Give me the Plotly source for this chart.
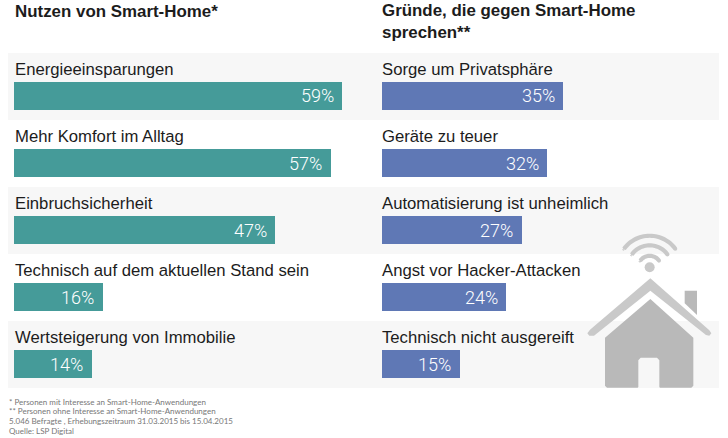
import numpy as np
import plotly.graph_objects as go

title_left = "Nutzen von Smart-Home*"
title_right = ["Gründe, die gegen Smart-Home", "sprechen**"]
cats_left = ["Energieeinsparungen", "Mehr Komfort im Alltag", "Einbruchsicherheit",
             "Technisch auf dem aktuellen Stand sein", "Wertsteigerung von Immobilie"]
vals_left = [59, 57, 47, 16, 14]
cats_right = ["Sorge um Privatsphäre", "Geräte zu teuer", "Automatisierung ist unheimlich",
              "Angst vor Hacker-Attacken", "Technisch nicht ausgereift"]
vals_right = [35, 32, 27, 24, 15]
footnotes = ["* Personen mit Interesse an Smart-Home-Anwendungen",
             "** Personen ohne Interesse an Smart-Home-Anwendungen",
             "5.046 Befragte , Erhebungszeitraum 31.03.2015 bis 15.04.2015",
             "Quelle: LSP Digital"]
footnote_y = [402, 411, 420.5, 431]

W, H = 728, 438
TEAL, BLUE = "#459b99", "#5f78b5"
BAND, INK = "#f7f7f7", "#1c1c1c"
HOUSE, ROOF = "#b9b9b9", "#c9c9c9"
SANS = "Liberation Sans, Arial, sans-serif"

def px(x): return x / W
def py(y): return 1 - y / H

def path(points):
    return "M" + " L".join(f"{px(x):.5f},{py(y):.5f}" for x, y in points) + " Z"

fig = go.Figure()
rows = 5
for cats, vals, color, xa, ya in [(cats_left, vals_left, TEAL, "x", "y"),
                                  (cats_right, vals_right, BLUE, "x2", "y2")]:
    fig.add_trace(go.Bar(y=cats, x=vals, orientation="h", marker=dict(color=color, line_width=0),
                         width=28 / 67, offset=-4.5 / 67, xaxis=xa, yaxis=ya,
                         hoverinfo="skip", showlegend=False))

annotations = []
for cats, vals, xa, ya, sh in [(cats_left, vals_left, "x", "y", -1.5), (cats_right, vals_right, "x2", "y2", -2.5)]:
    for c, v in zip(cats, vals):
        annotations.append(dict(x=0, y=c, xref=xa, yref=ya, text=c, showarrow=False, xanchor="left",
                                yanchor="middle", yshift=17, xshift=sh,
                                font=dict(family=SANS, size=16.7, color=INK)))
        annotations.append(dict(x=v, y=c, xref=xa, yref=ya, text=f"{v}%", showarrow=False, xanchor="right",
                                yanchor="middle", yshift=-9.5, xshift=-6.5,
                                font=dict(family="Roboto, sans-serif", weight=300, size=18, color="#ffffff")))
annotations.append(dict(x=px(14), y=py(11.5), xref="paper", yref="paper", text=f"<b>{title_left}</b>",
                        showarrow=False, xanchor="left", yanchor="middle", align="left", xshift=-1,
                        font=dict(family=SANS, size=16.9, color=INK)))
annotations.append(dict(x=px(382), y=py(21.5), xref="paper", yref="paper",
                        text="<br>".join(f"<b>{t}</b>" for t in title_right),
                        showarrow=False, xanchor="left", yanchor="middle", align="left", xshift=-2,
                        font=dict(family=SANS, size=16.9, color=INK)))
for line, y in zip(footnotes, footnote_y):
    annotations.append(dict(x=px(8), y=py(y), xref="paper", yref="paper", text=line,
                            showarrow=False, xanchor="left", yanchor="middle", xshift=-1,
                            font=dict(family="Lato, sans-serif", size=8, color="#777777")))

shapes = []
for top in (53, 187, 321):
    shapes.append(dict(type="rect", xref="paper", yref="paper", x0=px(8), x1=px(719), y0=py(top), y1=py(top + 67),
                       fillcolor=BAND, line_width=0, layer="below"))

def zx(v): return 580 + v / 3
def zy(v): return 225 + v / 3

body = [(211, 222), (340, 338), (340, 482), (334, 488), (240, 488), (238, 486), (238, 406), (231, 398),
        (182, 398), (175, 406), (175, 486), (173, 488), (81, 488), (75, 482), (75, 338)]
chimney = [(314, 197), (351, 197), (351, 270), (314, 235)]
roof = [(211, 160), (388, 316), (394, 325), (388, 332), (378, 330), (211, 197), (42, 332), (28, 332), (22, 325), (30, 314)]
for pts, col in [(chimney, HOUSE), (body, HOUSE), (roof, ROOF)]:
    shapes.append(dict(type="path", xref="paper", yref="paper", path=path([(zx(a), zy(b)) for a, b in pts]),
                       fillcolor=col, line_width=0, layer="above"))
cx, cy = zx(209), zy(127)
shapes.append(dict(type="circle", xref="paper", yref="paper", x0=px(cx - 5), x1=px(cx + 5), y0=py(cy - 5), y1=py(cy + 5),
                   fillcolor=ROOF, line_width=0, layer="above"))
half = 2.1
for r in (11.5, 22, 31.6):
    a = np.radians(np.linspace(-54, 54, 31))
    outer = [(cx + (r + half) * np.sin(t), cy - (r + half) * np.cos(t)) for t in a]
    inner = [(cx + (r - half) * np.sin(t), cy - (r - half) * np.cos(t)) for t in a[::-1]]
    def cap(t, sign):
        mx, my = cx + r * np.sin(t), cy - r * np.cos(t)
        return [(mx + half * np.sin(t + sign * s), my - half * np.cos(t + sign * s))
                for s in np.radians([45, 90, 135])]
    pts = outer + cap(a[-1], 1) + inner + cap(a[0], -1)
    shapes.append(dict(type="path", xref="paper", yref="paper", path=path(pts),
                       fillcolor=ROOF, line_width=0, layer="above"))

fig.update_layout(
    width=W, height=H, margin=dict(l=0, r=0, t=0, b=0), paper_bgcolor="#ffffff", plot_bgcolor="rgba(0,0,0,0)",
    bargap=0, annotations=annotations, shapes=shapes,
    xaxis=dict(domain=[px(14), px(342)], range=[0, 59], visible=False, fixedrange=True),
    xaxis2=dict(domain=[px(382), px(563)], range=[0, 35], visible=False, fixedrange=True),
    yaxis=dict(domain=[py(388), py(53)], categoryorder="array", categoryarray=cats_left, autorange=False,
               range=[rows - 0.5, -0.5], visible=False, fixedrange=True, anchor="x"),
    yaxis2=dict(domain=[py(388), py(53)], categoryorder="array", categoryarray=cats_right, autorange=False,
                range=[rows - 0.5, -0.5], visible=False, fixedrange=True, anchor="x2"),
)
fig.write_html("out.html", config=dict(displayModeBar=False, responsive=False),
               post_script="document.body.style.margin='0';")
